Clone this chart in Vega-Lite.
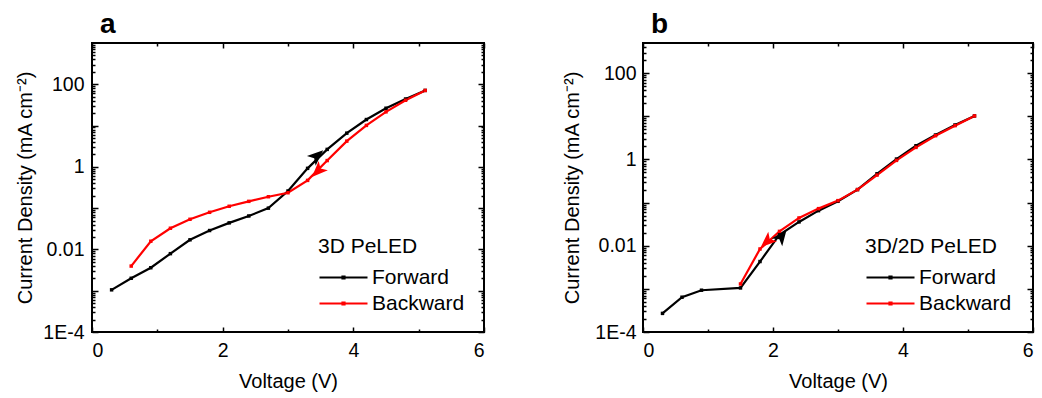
{
  "$schema": "https://vega.github.io/schema/vega-lite/v6.json",
  "padding": {"left": 14, "top": 10, "right": 2, "bottom": 2},
  "spacing": 75,
  "resolve": {"scale": {"color": "independent"}, "legend": {"color": "independent"}},
  "datasets": {
    "a": [
      {"dir": "Forward", "v": 0.3, "j": 0.00105},
      {"dir": "Forward", "v": 0.6, "j": 0.002},
      {"dir": "Forward", "v": 0.9, "j": 0.0036},
      {"dir": "Forward", "v": 1.2, "j": 0.0079},
      {"dir": "Forward", "v": 1.5, "j": 0.0171},
      {"dir": "Forward", "v": 1.8, "j": 0.0287},
      {"dir": "Forward", "v": 2.1, "j": 0.044},
      {"dir": "Forward", "v": 2.4, "j": 0.0646},
      {"dir": "Forward", "v": 2.7, "j": 0.1},
      {"dir": "Forward", "v": 3.0, "j": 0.26},
      {"dir": "Forward", "v": 3.3, "j": 0.92},
      {"dir": "Forward", "v": 3.6, "j": 2.65},
      {"dir": "Forward", "v": 3.9, "j": 6.55},
      {"dir": "Forward", "v": 4.2, "j": 14},
      {"dir": "Forward", "v": 4.5, "j": 26.3},
      {"dir": "Forward", "v": 4.8, "j": 44},
      {"dir": "Forward", "v": 5.1, "j": 71},
      {"dir": "Backward", "v": 0.6, "j": 0.00395},
      {"dir": "Backward", "v": 0.9, "j": 0.0158},
      {"dir": "Backward", "v": 1.2, "j": 0.0326},
      {"dir": "Backward", "v": 1.5, "j": 0.0537},
      {"dir": "Backward", "v": 1.8, "j": 0.0793},
      {"dir": "Backward", "v": 2.1, "j": 0.111},
      {"dir": "Backward", "v": 2.4, "j": 0.146},
      {"dir": "Backward", "v": 2.7, "j": 0.189},
      {"dir": "Backward", "v": 3.0, "j": 0.236},
      {"dir": "Backward", "v": 3.3, "j": 0.47},
      {"dir": "Backward", "v": 3.6, "j": 1.42},
      {"dir": "Backward", "v": 3.9, "j": 4.2},
      {"dir": "Backward", "v": 4.2, "j": 10.1},
      {"dir": "Backward", "v": 4.5, "j": 21.5},
      {"dir": "Backward", "v": 4.8, "j": 41},
      {"dir": "Backward", "v": 5.1, "j": 71}
    ],
    "b": [
      {"dir": "Forward", "v": 0.3, "j": 0.00027},
      {"dir": "Forward", "v": 0.6, "j": 0.00064},
      {"dir": "Forward", "v": 0.9, "j": 0.00093},
      {"dir": "Forward", "v": 1.5, "j": 0.00105},
      {"dir": "Forward", "v": 1.8, "j": 0.0043},
      {"dir": "Forward", "v": 2.1, "j": 0.018},
      {"dir": "Forward", "v": 2.4, "j": 0.0356},
      {"dir": "Forward", "v": 2.7, "j": 0.065},
      {"dir": "Forward", "v": 3.0, "j": 0.107},
      {"dir": "Forward", "v": 3.3, "j": 0.2},
      {"dir": "Forward", "v": 3.6, "j": 0.465},
      {"dir": "Forward", "v": 3.9, "j": 1.02},
      {"dir": "Forward", "v": 4.2, "j": 2.08},
      {"dir": "Forward", "v": 4.5, "j": 3.68},
      {"dir": "Forward", "v": 4.8, "j": 6.29},
      {"dir": "Forward", "v": 5.1, "j": 10.2},
      {"dir": "Backward", "v": 1.5, "j": 0.0013},
      {"dir": "Backward", "v": 1.8, "j": 0.0084},
      {"dir": "Backward", "v": 2.1, "j": 0.0215},
      {"dir": "Backward", "v": 2.4, "j": 0.044},
      {"dir": "Backward", "v": 2.7, "j": 0.0724},
      {"dir": "Backward", "v": 3.0, "j": 0.111},
      {"dir": "Backward", "v": 3.3, "j": 0.2},
      {"dir": "Backward", "v": 3.6, "j": 0.433},
      {"dir": "Backward", "v": 3.9, "j": 0.95},
      {"dir": "Backward", "v": 4.2, "j": 1.9},
      {"dir": "Backward", "v": 4.5, "j": 3.55},
      {"dir": "Backward", "v": 4.8, "j": 6.07},
      {"dir": "Backward", "v": 5.1, "j": 10.2}
    ],
    "arrows": [
      {"panel": "a", "dir": "Forward", "v": 3.44, "j": 1.84},
      {"panel": "a", "dir": "Backward", "v": 3.46, "j": 0.8},
      {"panel": "b", "dir": "Forward", "v": 2.13, "j": 0.0164},
      {"panel": "b", "dir": "Backward", "v": 1.91, "j": 0.0126}
    ]
  },
  "hconcat": [
    {
      "width": 392,
      "height": 289,
      "title": {"text": "a", "anchor": "start", "frame": "group", "dx": 8, "offset": 3, "fontSize": 28, "fontWeight": "bold", "font": "Liberation Sans", "color": "#000"},
      "resolve": {"axis": {"x": "independent", "y": "independent"}},
      "layer": [
        {
          "data": {"name": "a"},
          "transform": [{"filter": "datum.dir == 'Forward'"}],
          "mark": {"type": "line", "strokeWidth": 2.2},
          "encoding": {
            "x": {"field": "v", "type": "quantitative", "scale": {"domain": [0, 6], "nice": false},
              "axis": {"orient": "bottom", "values": [0, 2, 4, 6], "offset": -5, "tickSize": 5, "labelPadding": 9, "labelOverlap": false, "title": "Voltage (V)", "titlePadding": 12}},
            "y": {"field": "j", "type": "quantitative", "scale": {"type": "log", "domain": [0.0001, 1000], "nice": false},
              "axis": {"orient": "left", "values": [0.0001, 0.001, 0.01, 0.1, 1, 10, 100], "offset": -6, "tickSize": 6, "labelPadding": 8, "labelOverlap": false,
                "labelExpr": "datum.value == 0.0001 ? '1E-4' : datum.value == 0.01 ? '0.01' : datum.value == 1 ? '1' : datum.value == 100 ? '100' : ''",
                "title": "Current Density (mA cm⁻²)", "titlePadding": 7}},
            "color": {"field": "dir", "type": "nominal", "scale": {"domain": ["Forward", "Backward"], "range": ["#000000", "#ff0000"]},
              "legend": {"title": "3D PeLED", "orient": "none", "direction": "vertical", "legendX": 226, "legendY": 193}}
          }
        },
        {
          "data": {"name": "a"},
          "transform": [{"filter": "datum.dir == 'Backward'"}],
          "mark": {"type": "line", "strokeWidth": 2.2, "color": "#ff0000"},
          "encoding": {
            "x": {"field": "v", "type": "quantitative", "scale": {"domain": [0, 6], "nice": false},
              "axis": {"orient": "bottom", "values": [1, 3, 5], "offset": -3, "tickSize": 3, "labels": false, "title": null}},
            "y": {"field": "j", "type": "quantitative", "scale": {"type": "log", "domain": [0.0001, 1000], "nice": false},
              "axis": {"orient": "left", "offset": -3, "tickSize": 3, "labels": false, "title": null,
                "values": [0.0002, 0.0003, 0.0004, 0.0005, 0.0006, 0.0007, 0.0008, 0.0009, 0.002, 0.003, 0.004, 0.005, 0.006, 0.007, 0.008, 0.009, 0.02, 0.03, 0.04, 0.05, 0.06, 0.07, 0.08, 0.09, 0.2, 0.3, 0.4, 0.5, 0.6, 0.7, 0.8, 0.9, 2, 3, 4, 5, 6, 7, 8, 9, 20, 30, 40, 50, 60, 70, 80, 90, 200, 300, 400, 500, 600, 700, 800, 900]}}
          }
        },
        {
          "data": {"name": "a"},
          "transform": [{"filter": "datum.dir == 'Forward'"}],
          "mark": {"type": "point", "shape": "square", "filled": true, "size": 12, "color": "#000000", "opacity": 1},
          "encoding": {
            "x": {"field": "v", "type": "quantitative", "scale": {"domain": [0, 6], "nice": false},
              "axis": {"orient": "top", "values": [0, 2, 4, 6], "offset": -5, "tickSize": 5, "labels": false, "title": null}},
            "y": {"field": "j", "type": "quantitative", "scale": {"type": "log", "domain": [0.0001, 1000], "nice": false},
              "axis": {"orient": "right", "values": [0.0001, 0.001, 0.01, 0.1, 1, 10, 100], "offset": -6, "tickSize": 6, "labels": false, "title": null}}
          }
        },
        {
          "data": {"name": "a"},
          "transform": [{"filter": "datum.dir == 'Backward'"}],
          "mark": {"type": "point", "shape": "square", "filled": true, "size": 12, "color": "#ff0000", "opacity": 1},
          "encoding": {
            "x": {"field": "v", "type": "quantitative", "scale": {"domain": [0, 6], "nice": false},
              "axis": {"orient": "top", "values": [1, 3, 5], "offset": -3, "tickSize": 3, "labels": false, "title": null}},
            "y": {"field": "j", "type": "quantitative", "scale": {"type": "log", "domain": [0.0001, 1000], "nice": false},
              "axis": {"orient": "right", "offset": -3, "tickSize": 3, "labels": false, "title": null,
                "values": [0.0002, 0.0003, 0.0004, 0.0005, 0.0006, 0.0007, 0.0008, 0.0009, 0.002, 0.003, 0.004, 0.005, 0.006, 0.007, 0.008, 0.009, 0.02, 0.03, 0.04, 0.05, 0.06, 0.07, 0.08, 0.09, 0.2, 0.3, 0.4, 0.5, 0.6, 0.7, 0.8, 0.9, 2, 3, 4, 5, 6, 7, 8, 9, 20, 30, 40, 50, 60, 70, 80, 90, 200, 300, 400, 500, 600, 700, 800, 900]}}
          }
        },
        {
          "data": {"name": "arrows"},
          "transform": [{"filter": "datum.panel == 'a' && datum.dir == 'Forward'"}],
          "mark": {"type": "point", "shape": "M0,-1L0.75,0.85L0,0.4L-0.75,0.85Z", "filled": true, "size": 300, "angle": 48, "color": "#000000", "opacity": 1},
          "encoding": {
            "x": {"field": "v", "type": "quantitative", "scale": {"domain": [0, 6], "nice": false}, "axis": null},
            "y": {"field": "j", "type": "quantitative", "scale": {"type": "log", "domain": [0.0001, 1000], "nice": false}, "axis": null}
          }
        },
        {
          "data": {"name": "arrows"},
          "transform": [{"filter": "datum.panel == 'a' && datum.dir == 'Backward'"}],
          "mark": {"type": "point", "shape": "M0,-1L0.75,0.85L0,0.4L-0.75,0.85Z", "filled": true, "size": 300, "angle": 225, "color": "#ff0000", "opacity": 1},
          "encoding": {
            "x": {"field": "v", "type": "quantitative", "scale": {"domain": [0, 6], "nice": false}, "axis": null},
            "y": {"field": "j", "type": "quantitative", "scale": {"type": "log", "domain": [0.0001, 1000], "nice": false}, "axis": null}
          }
        }
      ]
    },
    {
      "width": 390,
      "height": 289,
      "title": {"text": "b", "anchor": "start", "frame": "group", "dx": 8, "offset": 3, "fontSize": 28, "fontWeight": "bold", "font": "Liberation Sans", "color": "#000"},
      "resolve": {"axis": {"x": "independent", "y": "independent"}},
      "layer": [
        {
          "data": {"name": "b"},
          "transform": [{"filter": "datum.dir == 'Forward'"}],
          "mark": {"type": "line", "strokeWidth": 2.2},
          "encoding": {
            "x": {"field": "v", "type": "quantitative", "scale": {"domain": [0, 6], "nice": false},
              "axis": {"orient": "bottom", "values": [0, 2, 4, 6], "offset": -5, "tickSize": 5, "labelPadding": 9, "labelOverlap": false, "title": "Voltage (V)", "titlePadding": 12}},
            "y": {"field": "j", "type": "quantitative", "scale": {"type": "log", "domain": [0.0001, 500], "nice": false},
              "axis": {"orient": "left", "values": [0.0001, 0.001, 0.01, 0.1, 1, 10, 100], "offset": -6, "tickSize": 6, "labelPadding": 7, "labelOverlap": false,
                "labelExpr": "datum.value == 0.0001 ? '1E-4' : datum.value == 0.01 ? '0.01' : datum.value == 1 ? '1' : datum.value == 100 ? '100' : ''",
                "title": "Current Density (mA cm⁻²)", "titlePadding": 12}},
            "color": {"field": "dir", "type": "nominal", "scale": {"domain": ["Forward", "Backward"], "range": ["#000000", "#ff0000"]},
              "legend": {"title": "3D/2D PeLED", "orient": "none", "direction": "vertical", "legendX": 222, "legendY": 193}}
          }
        },
        {
          "data": {"name": "b"},
          "transform": [{"filter": "datum.dir == 'Backward'"}],
          "mark": {"type": "line", "strokeWidth": 2.2, "color": "#ff0000"},
          "encoding": {
            "x": {"field": "v", "type": "quantitative", "scale": {"domain": [0, 6], "nice": false},
              "axis": {"orient": "bottom", "values": [1, 3, 5], "offset": -3, "tickSize": 3, "labels": false, "title": null}},
            "y": {"field": "j", "type": "quantitative", "scale": {"type": "log", "domain": [0.0001, 500], "nice": false},
              "axis": {"orient": "left", "offset": -3, "tickSize": 3, "labels": false, "title": null,
                "values": [0.0002, 0.0003, 0.0004, 0.0005, 0.0006, 0.0007, 0.0008, 0.0009, 0.002, 0.003, 0.004, 0.005, 0.006, 0.007, 0.008, 0.009, 0.02, 0.03, 0.04, 0.05, 0.06, 0.07, 0.08, 0.09, 0.2, 0.3, 0.4, 0.5, 0.6, 0.7, 0.8, 0.9, 2, 3, 4, 5, 6, 7, 8, 9, 20, 30, 40, 50, 60, 70, 80, 90, 200, 300, 400]}}
          }
        },
        {
          "data": {"name": "b"},
          "transform": [{"filter": "datum.dir == 'Forward'"}],
          "mark": {"type": "point", "shape": "square", "filled": true, "size": 12, "color": "#000000", "opacity": 1},
          "encoding": {
            "x": {"field": "v", "type": "quantitative", "scale": {"domain": [0, 6], "nice": false},
              "axis": {"orient": "top", "values": [0, 2, 4, 6], "offset": -5, "tickSize": 5, "labels": false, "title": null}},
            "y": {"field": "j", "type": "quantitative", "scale": {"type": "log", "domain": [0.0001, 500], "nice": false},
              "axis": {"orient": "right", "values": [0.0001, 0.001, 0.01, 0.1, 1, 10, 100], "offset": -6, "tickSize": 6, "labels": false, "title": null}}
          }
        },
        {
          "data": {"name": "b"},
          "transform": [{"filter": "datum.dir == 'Backward'"}],
          "mark": {"type": "point", "shape": "square", "filled": true, "size": 12, "color": "#ff0000", "opacity": 1},
          "encoding": {
            "x": {"field": "v", "type": "quantitative", "scale": {"domain": [0, 6], "nice": false},
              "axis": {"orient": "top", "values": [1, 3, 5], "offset": -3, "tickSize": 3, "labels": false, "title": null}},
            "y": {"field": "j", "type": "quantitative", "scale": {"type": "log", "domain": [0.0001, 500], "nice": false},
              "axis": {"orient": "right", "offset": -3, "tickSize": 3, "labels": false, "title": null,
                "values": [0.0002, 0.0003, 0.0004, 0.0005, 0.0006, 0.0007, 0.0008, 0.0009, 0.002, 0.003, 0.004, 0.005, 0.006, 0.007, 0.008, 0.009, 0.02, 0.03, 0.04, 0.05, 0.06, 0.07, 0.08, 0.09, 0.2, 0.3, 0.4, 0.5, 0.6, 0.7, 0.8, 0.9, 2, 3, 4, 5, 6, 7, 8, 9, 20, 30, 40, 50, 60, 70, 80, 90, 200, 300, 400]}}
          }
        },
        {
          "data": {"name": "arrows"},
          "transform": [{"filter": "datum.panel == 'b' && datum.dir == 'Forward'"}],
          "mark": {"type": "point", "shape": "M0,-1L0.75,0.85L0,0.4L-0.75,0.85Z", "filled": true, "size": 300, "angle": 37, "color": "#000000", "opacity": 1},
          "encoding": {
            "x": {"field": "v", "type": "quantitative", "scale": {"domain": [0, 6], "nice": false}, "axis": null},
            "y": {"field": "j", "type": "quantitative", "scale": {"type": "log", "domain": [0.0001, 500], "nice": false}, "axis": null}
          }
        },
        {
          "data": {"name": "arrows"},
          "transform": [{"filter": "datum.panel == 'b' && datum.dir == 'Backward'"}],
          "mark": {"type": "point", "shape": "M0,-1L0.75,0.85L0,0.4L-0.75,0.85Z", "filled": true, "size": 300, "angle": 228, "color": "#ff0000", "opacity": 1},
          "encoding": {
            "x": {"field": "v", "type": "quantitative", "scale": {"domain": [0, 6], "nice": false}, "axis": null},
            "y": {"field": "j", "type": "quantitative", "scale": {"type": "log", "domain": [0.0001, 500], "nice": false}, "axis": null}
          }
        }
      ]
    }
  ],
  "config": {
    "font": "Liberation Sans",
    "background": "#ffffff",
    "view": {"stroke": "#000000", "strokeWidth": 2},
    "axis": {"domain": false, "grid": false, "tickColor": "#000000", "tickWidth": 1.5, "labelColor": "#000000", "labelFont": "Liberation Sans", "labelFontSize": 19.5, "titleFont": "Liberation Sans", "titleFontSize": 20, "titleFontWeight": "normal", "titleColor": "#000000"},
    "legend": {"padding": 0, "titleFont": "Liberation Sans", "titleFontSize": 21, "titleFontWeight": "normal", "titleColor": "#000000", "titlePadding": 10, "labelFont": "Liberation Sans", "labelFontSize": 21, "labelColor": "#000000", "rowPadding": 4, "symbolType": "M-1.8,0H7.8M2.8,-0.2H3.2V0.2H2.8Z", "symbolSize": 100, "symbolStrokeWidth": 2.2, "labelOffset": 33}
  }
}
